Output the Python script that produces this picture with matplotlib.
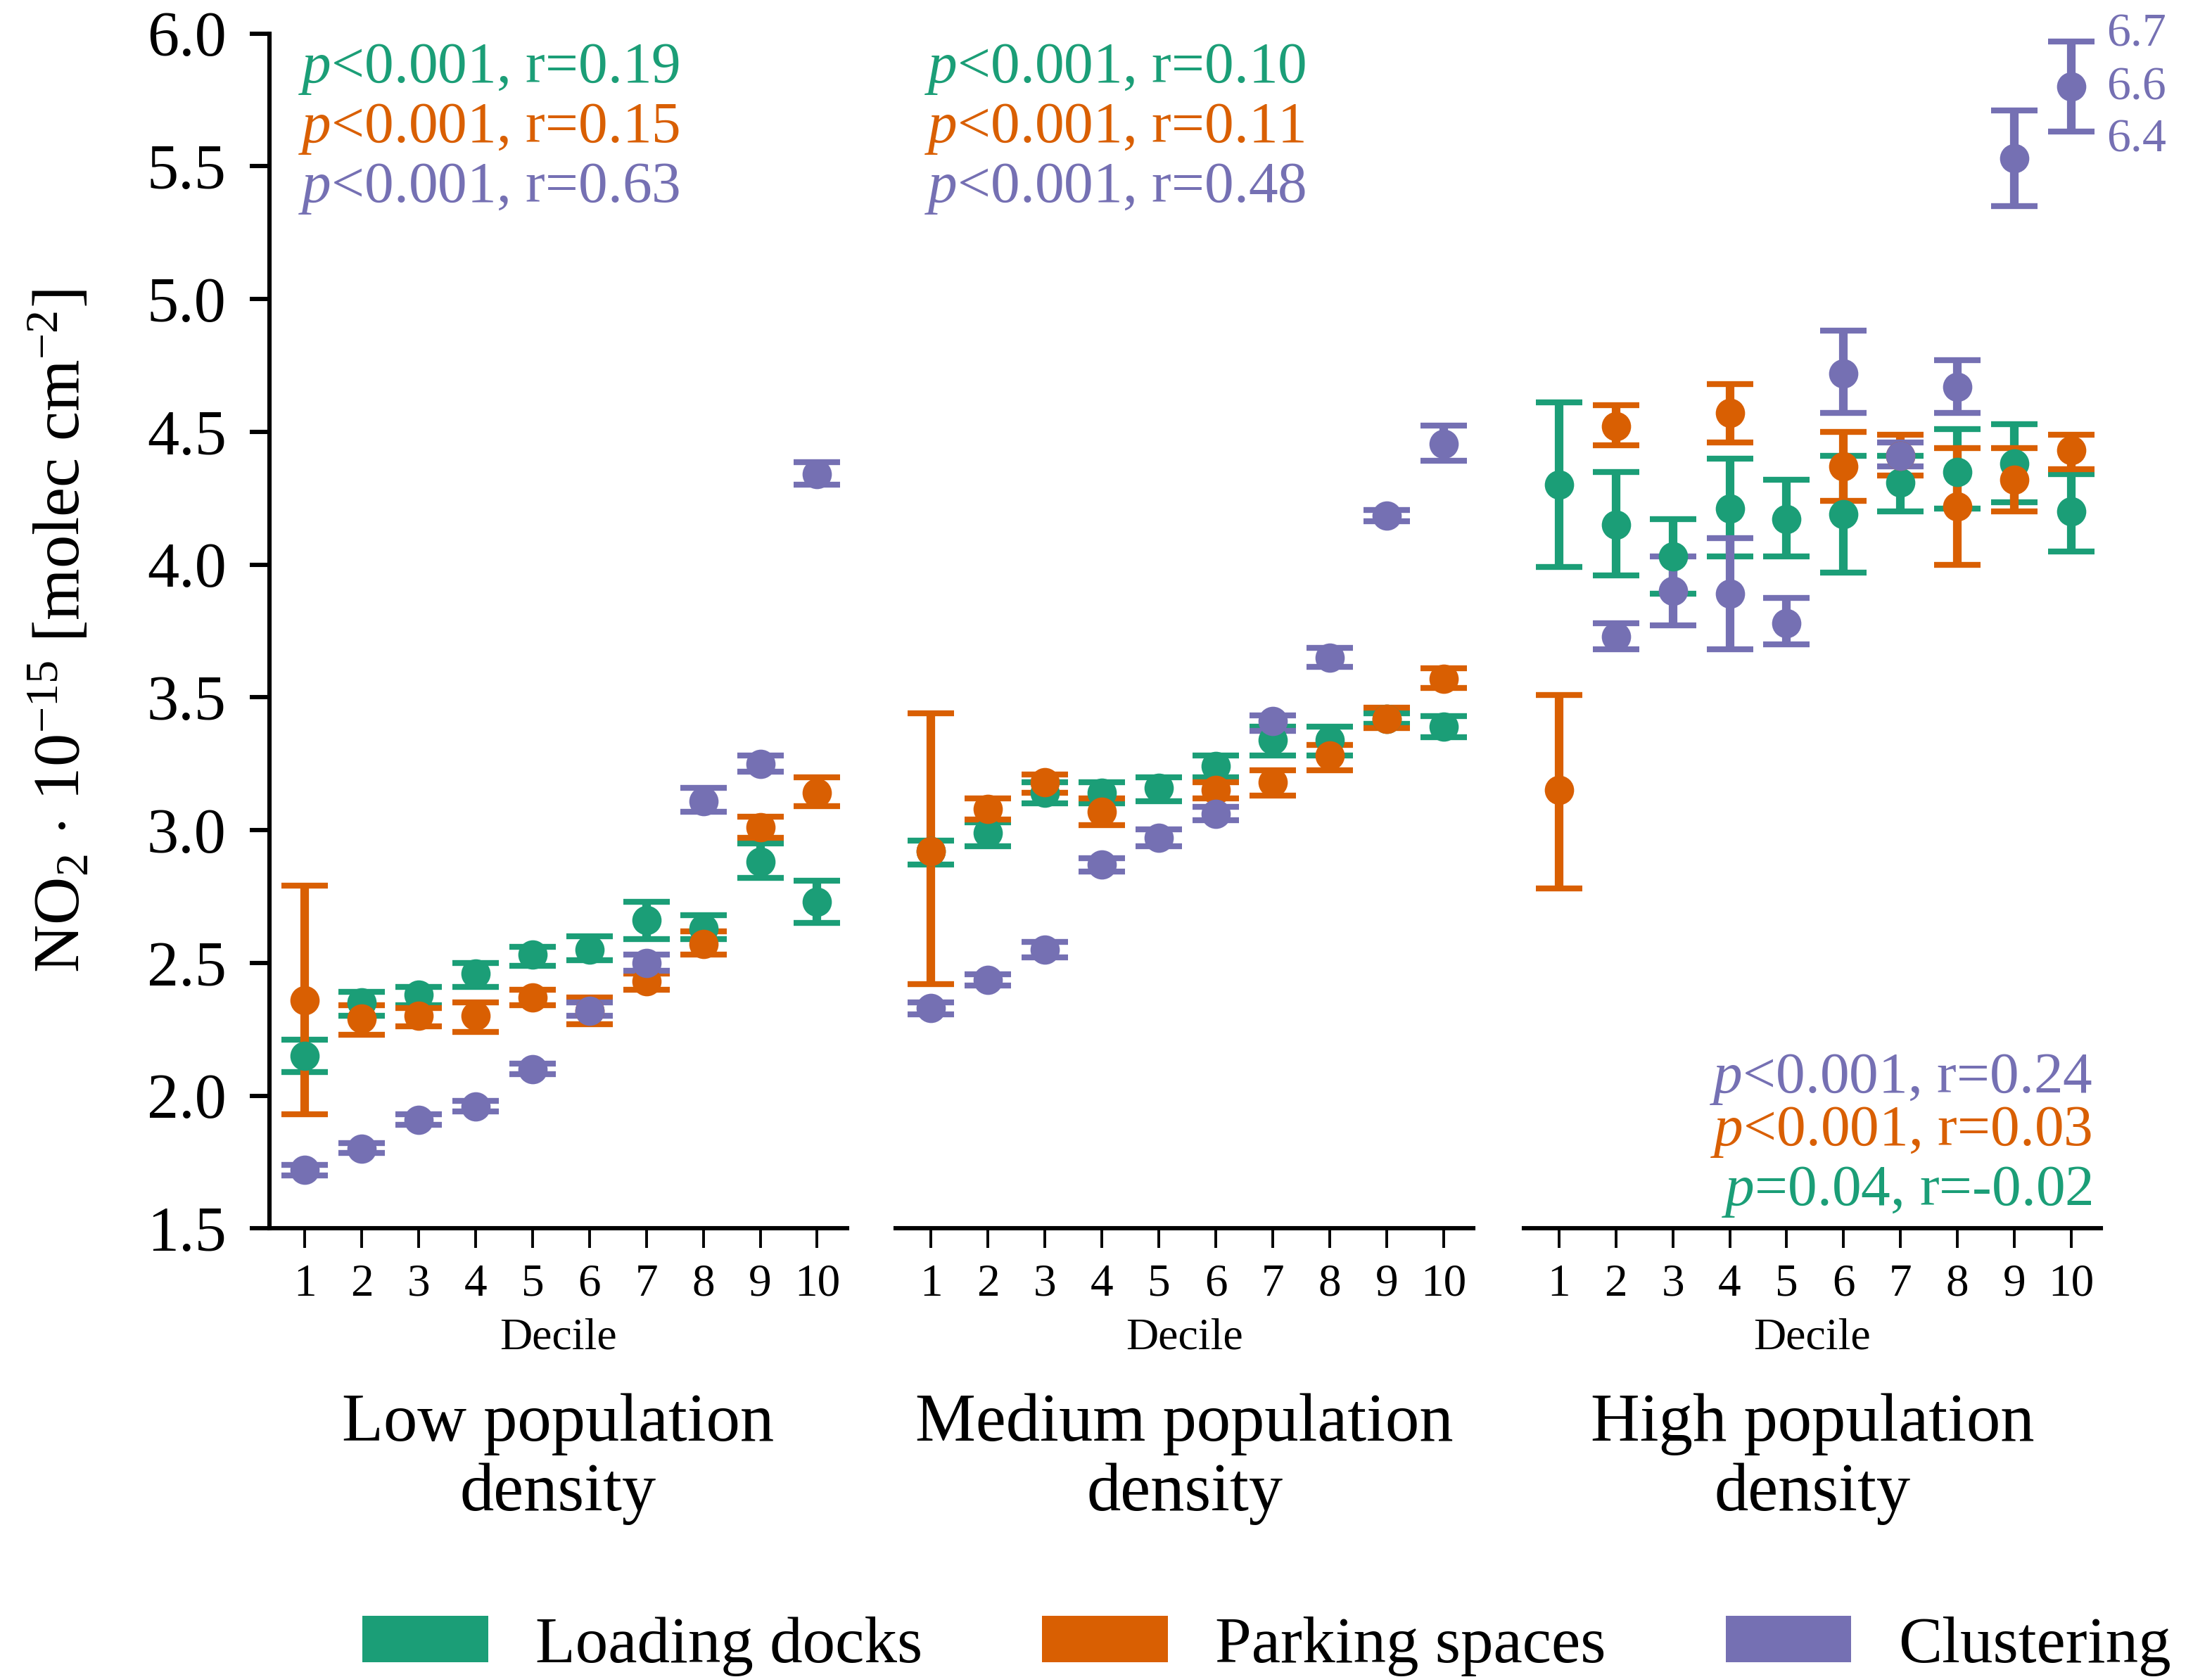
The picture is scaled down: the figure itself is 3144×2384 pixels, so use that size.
import numpy as np
import matplotlib
matplotlib.use('Agg')
import matplotlib.pyplot as plt
from matplotlib.patches import Patch

plt.rcParams['font.family'] = ['Liberation Serif', 'DejaVu Serif']
plt.rcParams['mathtext.fontset'] = 'custom'
plt.rcParams['mathtext.rm'] = 'Liberation Serif'
plt.rcParams['mathtext.it'] = 'Liberation Serif:italic'
plt.rcParams['mathtext.bf'] = 'Liberation Serif:bold'

#%% data (mean and confidence bounds per decile)
nan = np.nan
deciles = np.arange(1, 11)

low_docks = [2.15, 2.35, 2.38, 2.46, 2.53, 2.55, 2.66, 2.63, 2.88, 2.73]
low_docks_lo = [2.09, 2.30, 2.34, 2.41, 2.49, 2.51, 2.59, 2.59, 2.82, 2.65]
low_docks_hi = [2.21, 2.39, 2.41, 2.50, 2.56, 2.60, 2.73, 2.68, 2.95, 2.81]
low_park = [2.36, 2.29, 2.30, 2.30, 2.37, 2.32, 2.43, 2.57, 3.01, 3.14]
low_park_lo = [1.93, 2.23, 2.26, 2.24, 2.34, 2.27, 2.40, 2.53, 2.97, 3.09]
low_park_hi = [2.79, 2.34, 2.33, 2.35, 2.40, 2.37, 2.46, 2.62, 3.05, 3.20]
low_clus = [1.72, 1.80, 1.91, 1.96, 2.10, 2.32, 2.50, 3.11, 3.25, 4.34]
low_clus_lo = [1.70, 1.785, 1.89, 1.94, 2.08, 2.30, 2.47, 3.07, 3.22, 4.30]
low_clus_hi = [1.74, 1.82, 1.93, 1.98, 2.12, 2.35, 2.53, 3.16, 3.28, 4.385]

med_docks = [2.92, 2.99, 3.14, 3.14, 3.16, 3.24, 3.34, 3.34, 3.42, 3.39]
med_docks_lo = [2.87, 2.94, 3.10, 3.10, 3.11, 3.20, 3.28, 3.28, 3.40, 3.35]
med_docks_hi = [2.96, 3.03, 3.18, 3.18, 3.20, 3.28, 3.39, 3.39, 3.44, 3.43]
med_park = [2.92, 3.08, 3.18, 3.07, nan, 3.15, 3.18, 3.28, 3.42, 3.57]
med_park_lo = [2.42, 3.04, 3.14, 3.02, nan, 3.12, 3.13, 3.225, 3.385, 3.535]
med_park_hi = [3.44, 3.12, 3.21, 3.12, nan, 3.18, 3.225, 3.32, 3.46, 3.61]
med_clus = [2.33, 2.435, 2.55, 2.87, 2.97, 3.06, 3.41, 3.65, 4.185, 4.455]
med_clus_lo = [2.305, 2.415, 2.52, 2.845, 2.94, 3.036, 3.374, 3.614, 4.163, 4.39]
med_clus_hi = [2.352, 2.457, 2.58, 2.895, 3.002, 3.087, 3.433, 3.686, 4.205, 4.523]

high_docks = [4.30, 4.15, 4.03, 4.21, 4.17, 4.19, 4.31, 4.35, 4.38, 4.20]
high_docks_lo = [3.99, 3.96, 3.89, 4.03, 4.03, 3.97, 4.20, 4.21, 4.235, 4.05]
high_docks_hi = [4.61, 4.35, 4.17, 4.40, 4.32, 4.41, 4.41, 4.51, 4.53, 4.34]
high_park = [3.15, 4.52, nan, 4.57, nan, 4.37, 4.41, 4.22, 4.32, 4.43]
high_park_lo = [2.78, 4.45, nan, 4.46, nan, 4.24, 4.335, 4.00, 4.20, 4.36]
high_park_hi = [3.51, 4.60, nan, 4.68, nan, 4.50, 4.49, 4.44, 4.44, 4.49]
high_clus = [nan, 3.73, 3.90, 3.89, 3.78, 4.72, 4.41, 4.67, 5.53, 5.80]
high_clus_lo = [nan, 3.68, 3.77, 3.68, 3.70, 4.57, 4.37, 4.57, 5.35, 5.63]
high_clus_hi = [nan, 3.78, 4.03, 4.10, 3.875, 4.88, 4.46, 4.77, 5.71, 5.97]

series_names = ['Loading docks', 'Parking spaces', 'Clustering']
colors = ['#1b9e77', '#d95f02', '#7570b3']
panel_titles = [('Low population', 'density'), ('Medium population', 'density'),
                ('High population', 'density')]
stats_low = ['$p$<0.001, r=0.19', '$p$<0.001, r=0.15', '$p$<0.001, r=0.63']
stats_med = ['$p$<0.001, r=0.10', '$p$<0.001, r=0.11', '$p$<0.001, r=0.48']
stats_high = ['$p$<0.001, r=0.24', '$p$<0.001, r=0.03', '$p$=0.04, r=-0.02']
outlier_labels = ['6.7', '6.6', '6.4']

panels = [
    [(low_docks, low_docks_lo, low_docks_hi), (low_park, low_park_lo, low_park_hi),
     (low_clus, low_clus_lo, low_clus_hi)],
    [(med_docks, med_docks_lo, med_docks_hi), (med_park, med_park_lo, med_park_hi),
     (med_clus, med_clus_lo, med_clus_hi)],
    [(high_docks, high_docks_lo, high_docks_hi), (high_park, high_park_lo, high_park_hi),
     (high_clus, high_clus_lo, high_clus_hi)],
]

#%% figure
fig = plt.figure(figsize=(15.72, 11.92), dpi=200)
lefts = [0.1218, 0.4050, 0.6888]
axes = []
for i, left in enumerate(lefts):
    ax = fig.add_axes([left, 0.2675, 0.2610, 0.7125])
    axes.append(ax)
    data = panels[i]
    # error bars first, points on top
    for (m, lo, hi), c in zip(data, colors):
        m = np.array(m); lo = np.array(lo); hi = np.array(hi)
        ax.errorbar(deciles, m, yerr=[m - lo, hi - m], fmt='none', ecolor=c,
                    elinewidth=4.4, capsize=12, capthick=3, zorder=2)
    for (m, lo, hi), c in zip(data, colors):
        ax.plot(deciles, m, 'o', color=c, ms=15, mew=0, zorder=3)

    ax.set_xlim(0.38, 10.52)
    ax.set_ylim(1.5, 6.0)
    ax.set_xticks(deciles)
    ax.spines['top'].set_visible(False)
    ax.spines['right'].set_visible(False)
    ax.spines['bottom'].set_linewidth(2.2)
    ax.tick_params(axis='x', length=10, width=1.4, labelsize=23.5, pad=8)
    ax.text(0.5, -0.1006, 'Decile', transform=ax.transAxes, ha='center',
            va='baseline', fontsize=23)
    ax.text(0.5, -0.1778, panel_titles[i][0], transform=ax.transAxes,
            ha='center', va='baseline', fontsize=34.8)
    ax.text(0.5, -0.2358, panel_titles[i][1], transform=ax.transAxes,
            ha='center', va='baseline', fontsize=34.8)
    if i == 0:
        ax.spines['left'].set_linewidth(2.2)
        ax.set_yticks(np.arange(1.5, 6.01, 0.5))
        ax.set_yticklabels(['%.1f' % v for v in np.arange(1.5, 6.01, 0.5)])
        ax.tick_params(axis='y', length=10, width=2.2, labelsize=32.5, pad=12)
    else:
        ax.spines['left'].set_visible(False)
        ax.set_yticks([])

# correlation annotations
for ax, stats in [(axes[0], stats_low), (axes[1], stats_med)]:
    for s, c, y in zip(stats, colors, [0.9594, 0.9094, 0.8593]):
        ax.text(0.05, y, s, transform=ax.transAxes, color=c, fontsize=30,
                ha='left', va='baseline')
for s, c, y in zip(stats_high, [colors[2], colors[1], colors[0]], [0.1135, 0.0695, 0.0194]):
    axes[2].text(0.985, y, s, transform=axes[2].transAxes, color=c, fontsize=30,
                 ha='right', va='baseline')

# real values of the clipped clustering point
for s, y in zip(outlier_labels, [0.9896, 0.9449, 0.9014]):
    axes[2].text(1.010, y, s, transform=axes[2].transAxes, color=colors[2],
                 fontsize=24.5, ha='left', va='baseline', clip_on=False)

fig.text(0.028, 0.6237, r'NO$_2$ $\cdot$ 10$^{-15}$ [molec cm$^{-2}$]',
         rotation=90, ha='center', va='center', fontsize=34)

handles = [Patch(facecolor=c, edgecolor='none') for c in colors]
fig.legend(handles, series_names, loc='center', bbox_to_anchor=(0.5727, 0.0185),
           ncol=3, frameon=False, fontsize=33.5, handlelength=1.92, handleheight=0.72,
           handletextpad=0.72, columnspacing=1.83, borderpad=0)

fig.savefig('out.png', dpi=200)
